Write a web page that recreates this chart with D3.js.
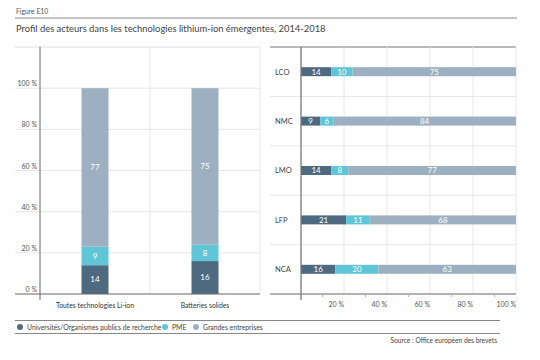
<!DOCTYPE html>
<html><head><meta charset="utf-8">
<script src="https://cdn.jsdelivr.net/npm/d3@7"></script>
<style>html,body{margin:0;padding:0;background:#fff;}svg{display:block;font-family:Lato,"Open Sans",sans-serif;}</style>
</head><body>
<script>
const seriesNames = ["Universités/Organismes publics de recherche", "PME", "Grandes entreprises"];
const seriesColors = ["#4e6a80", "#5ec6d6", "#9cb0c1"];
const leftCategories = ["Toutes technologies Li-ion", "Batteries solides"];
const leftUniv = [14, 16];
const leftPME = [9, 8];
const leftGrandes = [77, 75];
const rightCategories = ["LCO", "NMC", "LMO", "LFP", "NCA"];
const rightUniv = [14, 9, 14, 21, 16];
const rightPME = [10, 6, 8, 11, 20];
const rightGrandes = [75, 84, 77, 68, 63];
const yTicks = [0, 20, 40, 60, 80, 100];
const xTicks = [20, 40, 60, 80, 100];

const W = 540, H = 360;
const svg = d3.select("body").append("svg").attr("width", W).attr("height", H);
const grid = "#e6e6e6", axisCol = "#666", txt = "#555";

// Header
svg.append("text").attr("x", 16).attr("y", 13.5).attr("font-size", 6.8).attr("fill", "#555").text("Figure E10");
svg.append("line").attr("x1", 15).attr("x2", 517).attr("y1", 18).attr("y2", 18).attr("stroke", "#888").attr("stroke-width", 1);
svg.append("text").attr("x", 16).attr("y", 32).attr("font-size", 9.4).attr("fill", "#444").text("Profil des acteurs dans les technologies lithium-ion émergentes, 2014-2018");

// stacked segments; last segment fills to 100 % (values are rounded)
function stackRows(cats, a, b, c) {
  return cats.map((k, i) => {
    const vals = [a[i], b[i], c[i]];
    let acc = 0;
    return vals.map((v, j) => {
      const s = {cat: k, v, j, x0: acc, x1: j === 2 ? 100 : acc + v};
      acc += v; return s;
    });
  });
}

// ---- Left panel ----
const L = {x0: 15, axisX: 40, x1: 260, top: 47, bottom: 294};
const yL = d3.scaleLinear().domain([0, 120]).range([L.bottom, L.top]);
const xL = d3.scaleBand().domain(leftCategories).range([L.axisX, L.x1]).paddingInner(0).paddingOuter(0);
const gL = svg.append("g");
gL.append("line").attr("x1", L.x0).attr("x2", L.x1).attr("y1", L.top).attr("y2", L.top).attr("stroke", "#ddd");
gL.selectAll(".hg").data(yTicks.filter(d => d > 0)).join("line")
  .attr("x1", L.x0).attr("x2", L.x1).attr("y1", d => yL(d)).attr("y2", d => yL(d)).attr("stroke", grid);
gL.selectAll(".vg").data(leftCategories).join("line")
  .attr("x1", d => xL(d) + xL.bandwidth()).attr("x2", d => xL(d) + xL.bandwidth())
  .attr("y1", L.top).attr("y2", L.bottom).attr("stroke", grid);
const barW = 27;
const lData = stackRows(leftCategories, leftUniv, leftPME, leftGrandes);
lData.forEach(row => {
  row.forEach(s => {
    const cx = xL(s.cat) + xL.bandwidth() / 2;
    gL.append("rect").attr("x", cx - barW / 2).attr("width", barW)
      .attr("y", yL(s.x1)).attr("height", yL(s.x0) - yL(s.x1)).attr("fill", seriesColors[s.j]);
    gL.append("text").attr("x", cx).attr("y", (yL(s.x0) + yL(s.x1)) / 2 + 2.8)
      .attr("text-anchor", "middle").attr("font-size", 8).attr("fill", "#fff").text(s.v);
  });
});
gL.append("line").attr("x1", L.x0).attr("x2", L.x1).attr("y1", L.bottom).attr("y2", L.bottom).attr("stroke", axisCol);
gL.append("line").attr("x1", L.axisX).attr("x2", L.axisX).attr("y1", L.top).attr("y2", L.bottom + 6).attr("stroke", axisCol);
gL.selectAll(".yt").data(yTicks).join("text")
  .attr("x", 37).attr("y", d => yL(d) - 2).attr("text-anchor", "end").attr("font-size", 7).attr("fill", txt)
  .text(d => d + " %");
gL.selectAll(".xt").data(leftCategories).join("text")
  .attr("x", d => xL(d) + xL.bandwidth() / 2).attr("y", 308).attr("text-anchor", "middle")
  .attr("font-size", 6.8).attr("fill", "#333").text(d => d);

// ---- Right panel ----
const R = {x0: 270, axisX: 301, x1: 516, top: 47, bottom: 294};
const xR = d3.scaleLinear().domain([0, 100]).range([R.axisX, R.x1]);
const yR = d3.scaleBand().domain(rightCategories).range([R.top, R.bottom]);
const gR = svg.append("g");
gR.append("line").attr("x1", R.x0).attr("x2", R.x1).attr("y1", R.top).attr("y2", R.top).attr("stroke", "#777");
gR.selectAll(".vg").data(xTicks).join("line")
  .attr("x1", d => xR(d)).attr("x2", d => xR(d)).attr("y1", R.top).attr("y2", R.bottom).attr("stroke", grid);
gR.selectAll(".hg").data(rightCategories.slice(0, -1)).join("line")
  .attr("x1", R.x0).attr("x2", R.x1).attr("y1", d => yR(d) + yR.bandwidth()).attr("y2", d => yR(d) + yR.bandwidth()).attr("stroke", grid);
const barH = 9;
const rData = stackRows(rightCategories, rightUniv, rightPME, rightGrandes);
rData.forEach(row => {
  row.forEach(s => {
    const cy = yR(s.cat) + yR.bandwidth() / 2;
    gR.append("rect").attr("x", xR(s.x0)).attr("width", xR(s.x1) - xR(s.x0))
      .attr("y", cy - barH / 2).attr("height", barH).attr("fill", seriesColors[s.j]);
    gR.append("text").attr("x", (xR(s.x0) + xR(s.x1)) / 2).attr("y", cy + 2.8)
      .attr("text-anchor", "middle").attr("font-size", 8).attr("fill", "#fff").text(s.v);
  });
});
gR.append("line").attr("x1", R.x0).attr("x2", R.x1).attr("y1", R.bottom).attr("y2", R.bottom).attr("stroke", axisCol);
gR.append("line").attr("x1", R.axisX).attr("x2", R.axisX).attr("y1", R.top).attr("y2", R.bottom + 6).attr("stroke", "#777").attr("stroke-width", 1.3);
gR.selectAll(".mt").data([10, 30, 50, 70, 90]).join("line")
  .attr("x1", d => xR(d)).attr("x2", d => xR(d)).attr("y1", R.bottom).attr("y2", R.bottom + 3).attr("stroke", "#bbb");
gR.selectAll(".xt").data(xTicks).join("text")
  .attr("x", d => xR(d)).attr("y", 307).attr("text-anchor", "end").attr("font-size", 7).attr("fill", txt)
  .text(d => d + " %");
gR.selectAll(".yt").data(rightCategories).join("text")
  .attr("x", 275).attr("y", d => yR(d) + yR.bandwidth() / 2 + 2.8).attr("font-size", 7.5).attr("fill", "#444").text(d => d);

// ---- Legend ----
svg.append("line").attr("x1", 15).attr("x2", 500).attr("y1", 320.5).attr("y2", 320.5).attr("stroke", "#888");
svg.append("line").attr("x1", 15).attr("x2", 500).attr("y1", 333.5).attr("y2", 333.5).attr("stroke", "#888");
const legX = [20, 165, 196];
seriesNames.forEach((n, i) => {
  svg.append("circle").attr("cx", legX[i]).attr("cy", 327).attr("r", 3).attr("fill", seriesColors[i]);
  svg.append("text").attr("x", legX[i] + 7).attr("y", 329.5).attr("font-size", 6.8).attr("fill", "#444").text(n);
});
svg.append("text").attr("x", 497).attr("y", 343).attr("text-anchor", "end").attr("font-size", 6.6).attr("fill", "#444")
  .text("Source : Office européen des brevets");
</script>
</body></html>
